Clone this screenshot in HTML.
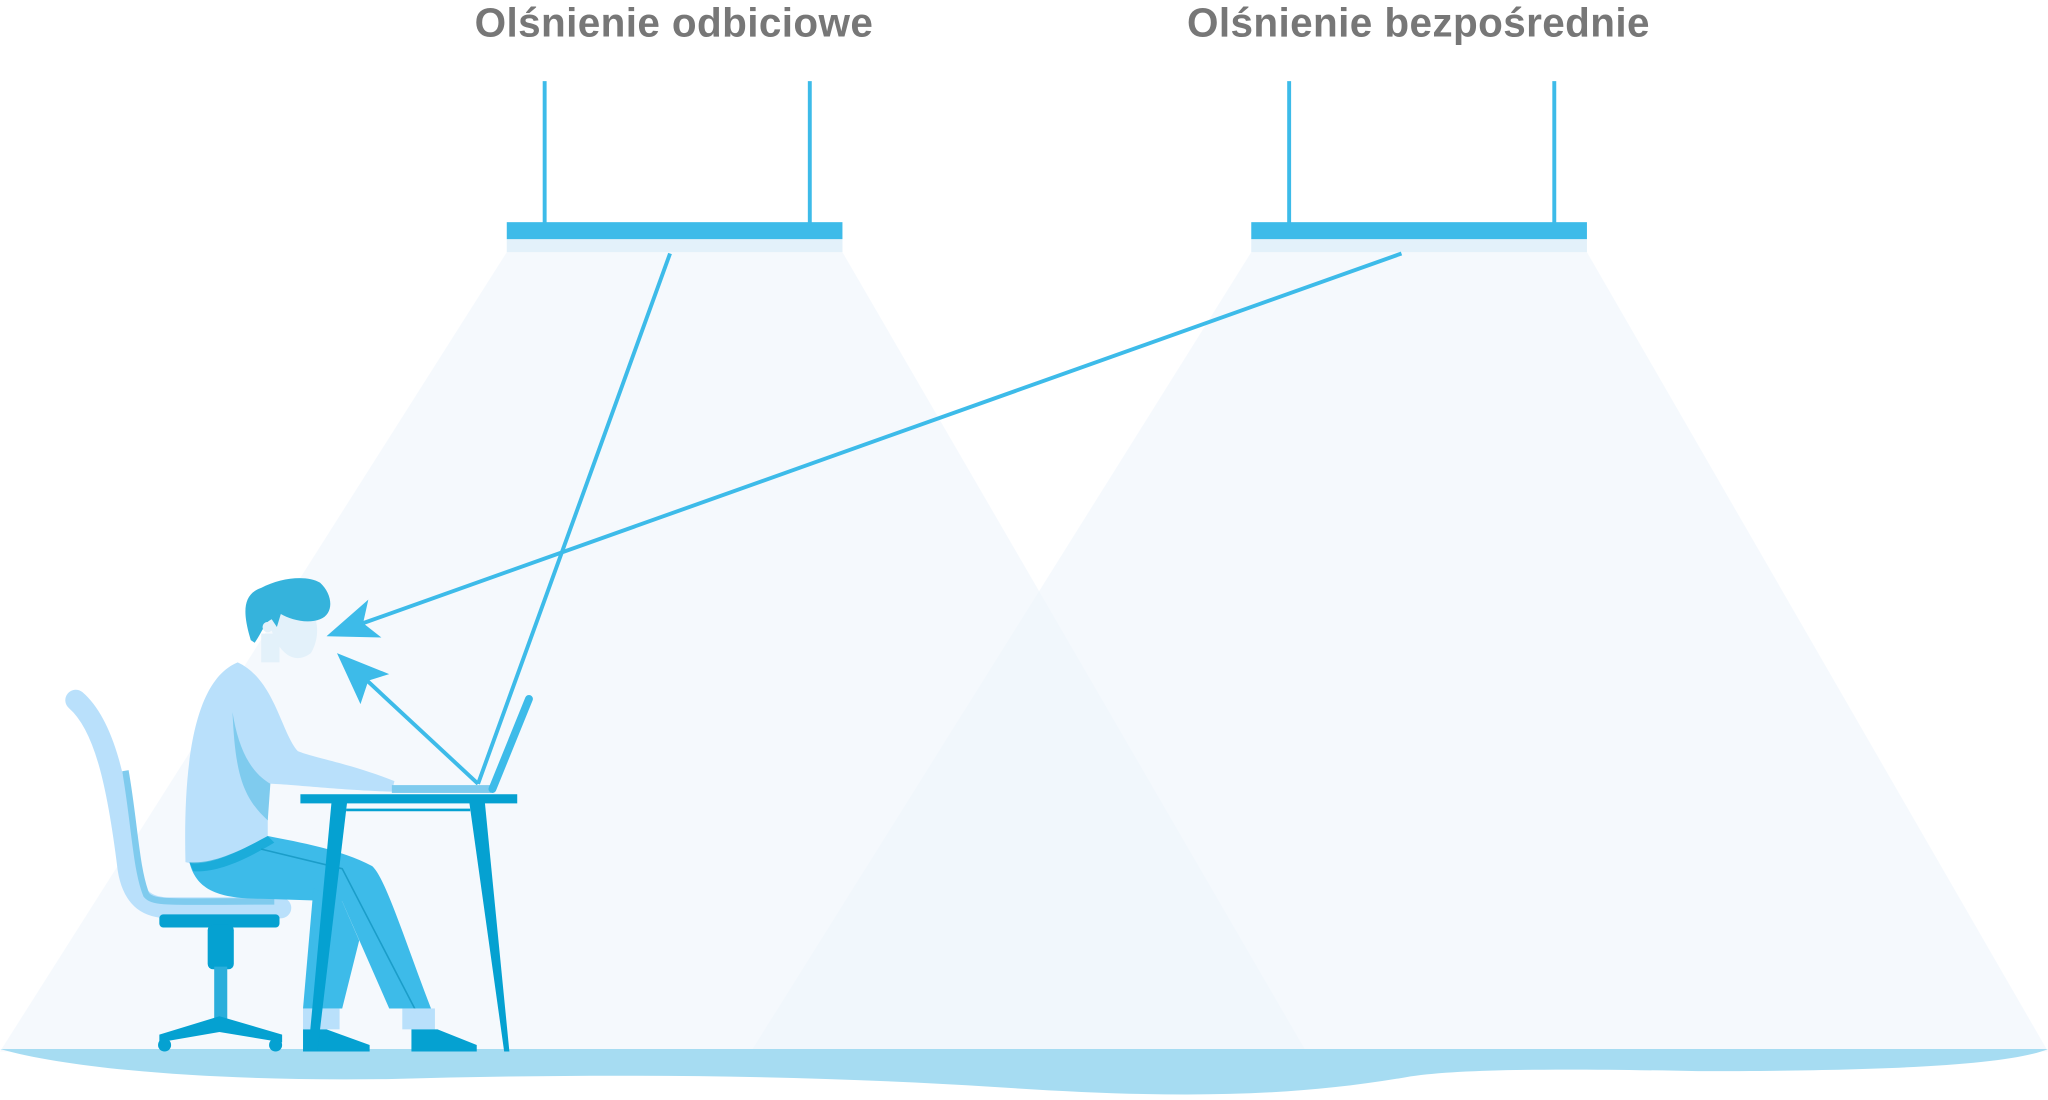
<!DOCTYPE html>
<html><head><meta charset="utf-8"><style>
html,body{margin:0;padding:0;background:#fff;}
svg{display:block;}
</style></head><body>
<svg width="2048" height="1100" viewBox="0 0 1568 842" xmlns="http://www.w3.org/2000/svg">
<rect width="1568" height="842" fill="#fff"/>
<!-- cones -->
<polygon points="388,193 645,193 1000,805 0,805" fill="#eef5fb" opacity="0.6"/>
<polygon points="958,193 1215,193 1568,805 575,805" fill="#eef5fb" opacity="0.6"/>
<rect x="388" y="183" width="257" height="10" fill="#e3f1fa"/>
<rect x="958" y="183" width="257" height="10" fill="#e3f1fa"/>
<!-- lamps -->
<line x1="417" y1="62" x2="417" y2="172" stroke="#3dbbe9" stroke-width="3"/>
<line x1="620" y1="62" x2="620" y2="172" stroke="#3dbbe9" stroke-width="3"/>
<line x1="987" y1="62" x2="987" y2="172" stroke="#3dbbe9" stroke-width="3"/>
<line x1="1190" y1="62" x2="1190" y2="172" stroke="#3dbbe9" stroke-width="3"/>
<rect x="388" y="170" width="257" height="13" fill="#3dbbe9"/>
<rect x="958" y="170" width="257" height="13" fill="#3dbbe9"/>
<text x="516" y="28" text-anchor="middle" font-family="Liberation Sans, sans-serif" font-weight="bold" font-size="31" letter-spacing="0.3" fill="#777">Olśnienie odbiciowe</text>
<text x="1086" y="28" text-anchor="middle" font-family="Liberation Sans, sans-serif" font-weight="bold" font-size="31" letter-spacing="0.3" fill="#777">Olśnienie bezpośrednie</text>
<!-- floor -->
<path d="M0,803 L1568,803 C1540,815 1450,820 1300,820 C1200,818 1120,818 1080,824 C980,842 880,840 760,832 C600,822 450,822 300,826 C180,828 60,820 0,803 Z" fill="#a6dcf2"/>
<!-- rays -->
<g stroke="#3dbbe9" stroke-width="3" fill="none">
<line x1="1073" y1="194" x2="278" y2="477"/>
<line x1="513" y1="194" x2="366" y2="600"/>
<line x1="366" y1="600" x2="280" y2="520"/>
</g>
<polygon points="250,487 282,459 278,477 292,488" fill="#3dbbe9"/>
<polygon points="258,500 298,516 282,521 276,539" fill="#3dbbe9"/>
<!-- chair -->
<path d="M58,536 C80,555 90,600 98,665 C102,690 115,695 130,695 L215,695" stroke="#b9e0fb" stroke-width="16" fill="none" stroke-linecap="round"/>
<path d="M96,590 C103,630 104,665 112,685 C118,692 130,690 210,690" stroke="#7fcbee" stroke-width="5" fill="none"/>
<rect x="122" y="700" width="92" height="10" rx="3" fill="#05a1d1"/>
<rect x="159" y="708" width="20" height="34" rx="4" fill="#05a1d1"/>
<rect x="164" y="740" width="10" height="40" fill="#2aaedb"/>
<polygon points="122,792 168,778 216,792 216,798 168,790 122,798" fill="#05a1d1"/>
<circle cx="126" cy="800" r="5" fill="#05a1d1"/>
<circle cx="211" cy="800" r="5" fill="#05a1d1"/>
<!-- person legs -->
<path d="M145,660 C150,680 165,688 200,688 L262,690 L298,772 L330,772 C310,720 295,672 285,663 C260,650 230,645 205,640 Z" fill="#3dbbe9"/>
<path d="M200,650 L262,665 L318,773" stroke="#1b9dc9" stroke-width="1.2" fill="none"/>
<path d="M240,680 L262,690 L275,720 L262,772 L232,772 Z" fill="#3dbbe9"/>
<rect x="232" y="772" width="28" height="16" fill="#b9e0fb"/>
<rect x="308" y="772" width="25" height="16" fill="#b9e0fb"/>
<path d="M232,788 L250,788 L283,800 L283,805 L232,805 Z" fill="#05a1d1"/>
<path d="M315,788 L335,788 L365,800 L365,805 L315,805 Z" fill="#05a1d1"/>
<!-- torso -->
<path d="M182,507 C150,520 140,580 142,660 C160,665 190,648 205,640 L205,600 C220,600 260,605 300,606 L302,598 C270,585 240,580 228,575 C215,560 210,520 182,507 Z" fill="#b9e0fb"/>
<path d="M178,545 C180,590 185,610 205,628 L207,600 C190,590 182,570 178,545 Z" fill="#7fcbee"/>
<path d="M145,660 C165,662 190,648 205,640 L210,645 C185,660 165,668 148,667 Z" fill="#05a1d1" opacity="0.6"/>
<!-- head -->
<path d="M205,470 C210,500 225,510 238,500 C244,490 244,478 240,470 Z" fill="#e3f1fa"/>
<rect x="200" y="485" width="14" height="22" fill="#e3f1fa"/>
<path d="M192,490 C186,470 185,455 200,450 C215,442 235,440 245,446 C255,455 256,470 245,474 C235,478 222,474 215,470 L212,480 L208,474 C203,476 200,485 195,492 Z" fill="#35b3dc"/>
<circle cx="205" cy="480" r="4" fill="#e3f1fa"/>
<!-- desk -->
<rect x="230" y="608" width="166" height="7" fill="#05a1d1"/>
<line x1="265" y1="620" x2="360" y2="620" stroke="#05a1d1" stroke-width="2"/>
<polygon points="254,612 266,612 243,805 236,805" fill="#05a1d1"/>
<polygon points="359,612 371,612 390,805 386,805" fill="#05a1d1"/>
<!-- laptop -->
<rect x="300" y="601" width="76" height="6" fill="#7fcbee"/>
<line x1="377" y1="604" x2="405" y2="535" stroke="#3dbbe9" stroke-width="6" stroke-linecap="round"/>
</svg>
</body></html>
